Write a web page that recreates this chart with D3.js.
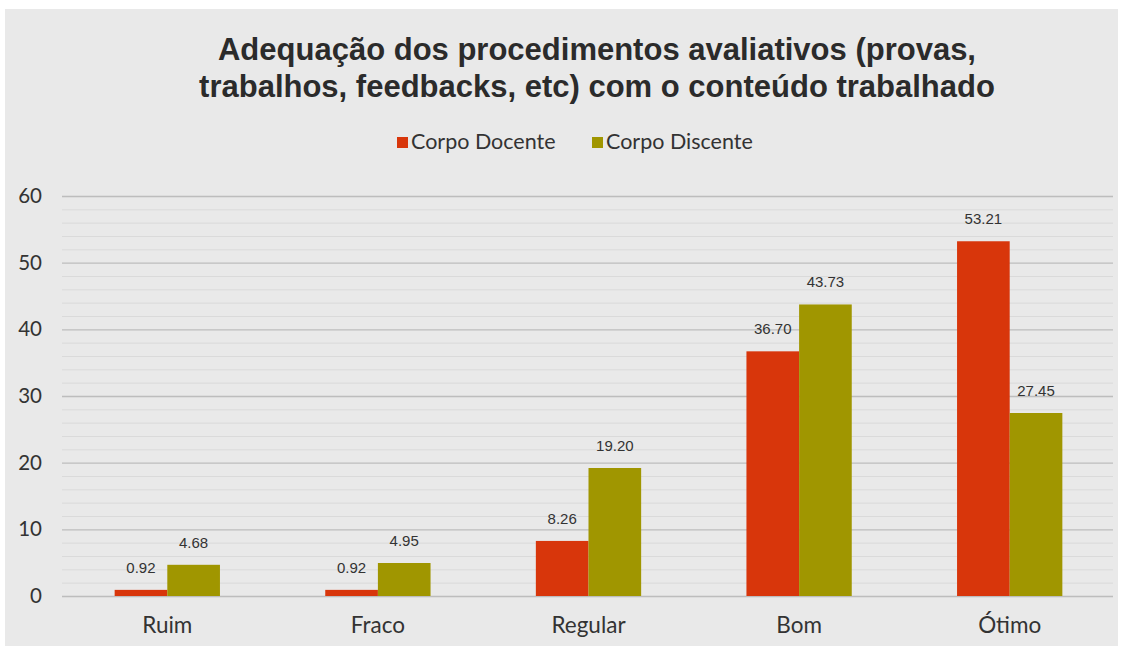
<!DOCTYPE html>
<html><head><meta charset="utf-8">
<script src="https://cdn.jsdelivr.net/npm/d3@7"></script>
<style>body{margin:0;background:#fff;}svg{display:block;}</style>
</head><body>
<svg id="c" width="1127" height="646"></svg>
<script>
const categories = ["Ruim","Fraco","Regular","Bom","Ótimo"];
const seriesNames = ["Corpo Docente","Corpo Discente"];
const docente = [0.92,0.92,8.26,36.70,53.21];
const discente = [4.68,4.95,19.20,43.73,27.45];
const yTicks = [0,10,20,30,40,50,60];
const colors = ["#d8360b","#a09600"];
const titleLines = ["Adequação dos procedimentos avaliativos (provas,","trabalhos, feedbacks, etc) com o conteúdo trabalhado"];

const svg = d3.select("#c");
svg.append("rect").attr("x",5).attr("y",9).attr("width",1113).attr("height",646).attr("fill","#e9e9e9");

const x = d3.scaleBand().domain(categories).range([62,1115]).paddingInner(0.5).paddingOuter(0.25);
const y = d3.scaleLinear().domain([0,60]).range([596,196]);
const xs = d3.scaleBand().domain(seriesNames).range([0,x.bandwidth()]);

// minor grid
svg.append("g").selectAll("line").data(d3.range(0,61,2).filter(v=>v%10!==0)).join("line")
  .attr("x1",62).attr("x2",1113).attr("y1",d=>y(d)+0.5).attr("y2",d=>y(d)+0.5)
  .attr("stroke","#dadada").attr("stroke-width",1);
// major grid
svg.append("g").selectAll("line").data(yTicks).join("line")
  .attr("x1",62).attr("x2",1113).attr("y1",d=>y(d)+0.5).attr("y2",d=>y(d)+0.5)
  .attr("stroke","#bdbdbd").attr("stroke-width",1.3);

// y axis labels
const ya = svg.append("g").attr("transform","translate(42,0)").call(d3.axisLeft(y).tickValues(yTicks).tickSize(0).tickPadding(0));
ya.select(".domain").remove();
ya.selectAll("text").attr("font-family","Lato, 'Open Sans', sans-serif").attr("font-size",20.5).attr("fill","#333");

// x axis labels
const xa = svg.append("g").attr("transform","translate(0,633)").call(d3.axisBottom(x).tickSize(0).tickPadding(0));
xa.select(".domain").remove();
xa.selectAll("text").attr("font-family","Lato, 'Open Sans', sans-serif").attr("font-size",22.5).attr("fill","#333").attr("dy","0");

const data = [docente, discente];
data.forEach((vals,si)=>{
  const g = svg.append("g");
  g.selectAll("rect").data(vals).join("rect")
    .attr("x",(d,i)=>x(categories[i])+xs(seriesNames[si]))
    .attr("width",xs.bandwidth())
    .attr("y",d=>y(d)).attr("height",d=>y(0)-y(d))
    .attr("fill",colors[si]);
  g.selectAll("text").data(vals).join("text")
    .attr("x",(d,i)=>x(categories[i])+xs(seriesNames[si])+xs.bandwidth()/2)
    .attr("y",d=>y(d)-17)
    .attr("text-anchor","middle")
    .attr("font-family","Arial, 'Liberation Sans', sans-serif").attr("font-size",15).attr("fill","#333")
    .text(d=>d.toFixed(2));
});

// title
svg.append("g").selectAll("text").data(titleLines).join("text")
  .attr("x",597).attr("y",(d,i)=>60+i*37).attr("text-anchor","middle")
  .attr("font-family","Arial, 'Liberation Sans', sans-serif").attr("font-weight","bold").attr("font-size",31).attr("fill","#2b2b2b")
  .text(d=>d);

// legend
const lx = [397,592];
seriesNames.forEach((n,i)=>{
  svg.append("rect").attr("x",lx[i]).attr("y",137).attr("width",11).attr("height",11).attr("fill",colors[i]);
  svg.append("text").attr("x",lx[i]+14).attr("y",149).attr("font-family","Lato, 'Open Sans', sans-serif").attr("font-size",21.5).attr("fill","#333").text(n);
});
</script>
</body></html>
